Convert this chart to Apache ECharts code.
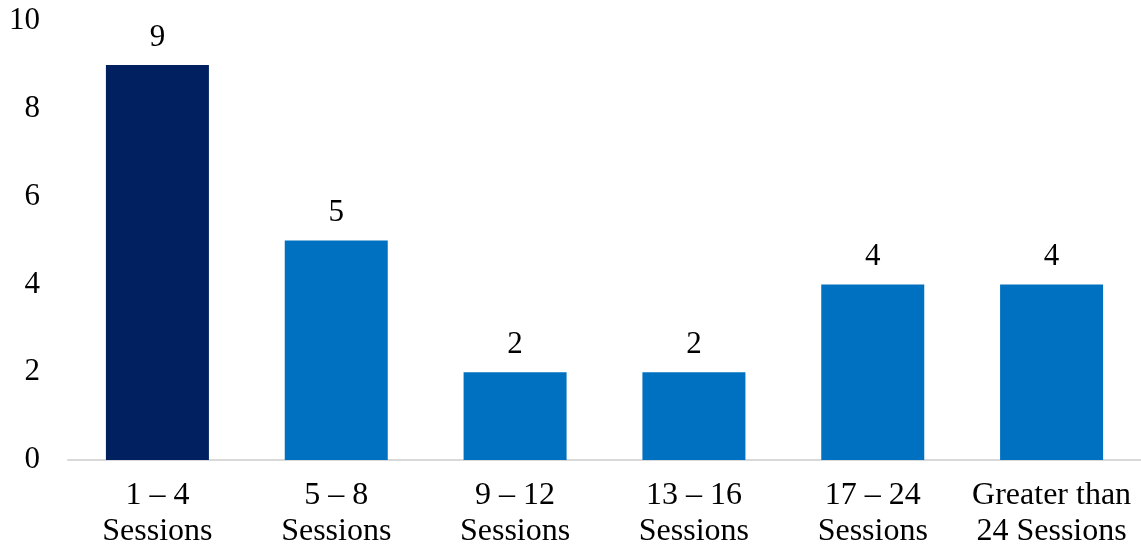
<!DOCTYPE html>
<html>
<head>
    <meta charset="utf-8">
    <title>Sessions</title>
    <style>
        html, body { margin: 0; padding: 0; background: #fff; }
        #chart { width: 1141px; height: 550px; }
    </style>
</head>
<body>
    <div id="chart"></div>
    <script src="https://cdn.jsdelivr.net/npm/echarts@6/dist/echarts.min.js"></script>
    <script>
        var categories = ['1 – 4\nSessions', '5 – 8\nSessions', '9 – 12\nSessions', '13 – 16\nSessions', '17 – 24\nSessions', 'Greater than\n24 Sessions'];
        var counts = [9, 5, 2, 2, 4, 4];
        var barColors = ['#002060', '#0070C0', '#0070C0', '#0070C0', '#0070C0', '#0070C0'];

        var font = '"Liberation Serif", "Times New Roman", serif';
        var chart = echarts.init(document.getElementById('chart'));

        chart.setOption({
            animation: false,
            grid: { left: 68, right: 0, top: 21, bottom: 88, containLabel: false },
            xAxis: {
                type: 'category',
                data: categories,
                axisLine: { lineStyle: { color: '#d9d9d9', width: 2 } },
                axisTick: { show: false },
                axisLabel: {
                    interval: 0,
                    color: '#000',
                    fontFamily: font,
                    fontSize: 32,
                    lineHeight: 36,
                    margin: 18
                }
            },
            yAxis: {
                type: 'value',
                min: 0,
                max: 10,
                interval: 2,
                splitLine: { show: false },
                axisLine: { show: false },
                axisTick: { show: false },
                axisLabel: {
                    color: '#000',
                    fontFamily: font,
                    fontSize: 31,
                    margin: 28
                }
            },
            series: [{
                type: 'bar',
                barWidth: 103,
                data: counts.map(function (v, i) {
                    return { value: v, itemStyle: { color: barColors[i] } };
                }),
                label: {
                    show: true,
                    position: 'top',
                    distance: 12,
                    color: '#000',
                    fontFamily: font,
                    fontSize: 31
                }
            }]
        });

        window.addEventListener('resize', function () {
            chart.resize();
        });
    </script>
</body>
</html>
